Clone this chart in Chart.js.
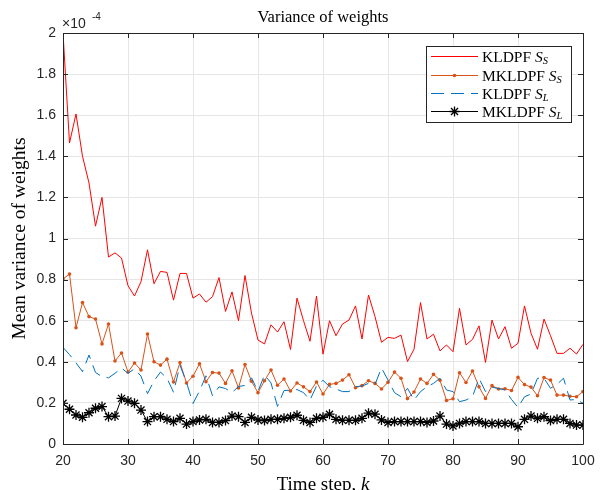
<!DOCTYPE html>
<html><head><meta charset="utf-8">
<script src="https://cdn.jsdelivr.net/npm/chart.js@4/dist/chart.umd.min.js"></script>
<style>html,body{margin:0;padding:0;background:#fff}canvas{display:block}</style>
</head><body>
<canvas id="c" width="606" height="490"></canvas>
<script>
// Time steps k
const steps = [20,21,22,23,24,25,26,27,28,29,30,31,32,33,34,35,36,37,38,39,40,41,42,43,44,45,46,47,48,49,50,51,52,53,54,55,56,57,58,59,60,61,62,63,64,65,66,67,68,69,70,71,72,73,74,75,76,77,78,79,80,81,82,83,84,85,86,87,88,89,90,91,92,93,94,95,96,97,98,99,100];
// Values in units of 1e-4
const kldpfSS = [2.0,1.465,1.606,1.40,1.27,1.06,1.20,0.91,0.93,0.905,0.77,0.72,0.79,0.945,0.78,0.84,0.835,0.70,0.83,0.83,0.71,0.73,0.69,0.717,0.81,0.645,0.74,0.60,0.82,0.637,0.506,0.487,0.58,0.545,0.595,0.46,0.71,0.60,0.50,0.72,0.437,0.60,0.527,0.584,0.603,0.672,0.511,0.725,0.62,0.495,0.519,0.514,0.53,0.401,0.461,0.688,0.511,0.534,0.453,0.482,0.449,0.66,0.482,0.509,0.575,0.397,0.603,0.511,0.571,0.466,0.49,0.672,0.539,0.461,0.608,0.527,0.441,0.441,0.466,0.438,0.485];
const mkldpfSS = [0.803,0.827,0.566,0.688,0.62,0.608,0.487,0.584,0.404,0.443,0.35,0.394,0.36,0.535,0.40,0.384,0.413,0.302,0.396,0.297,0.33,0.39,0.303,0.348,0.345,0.295,0.356,0.273,0.387,0.305,0.25,0.308,0.36,0.286,0.316,0.258,0.297,0.278,0.255,0.302,0.243,0.29,0.295,0.311,0.337,0.274,0.284,0.308,0.295,0.268,0.30,0.35,0.32,0.221,0.253,0.316,0.295,0.339,0.31,0.212,0.22,0.347,0.299,0.355,0.278,0.222,0.284,0.268,0.269,0.26,0.324,0.289,0.277,0.235,0.323,0.311,0.238,0.238,0.232,0.23,0.255];
const kldpfSL = [0.47,0.435,0.395,0.352,0.433,0.348,0.328,0.322,0.344,0.37,0.344,0.366,0.33,0.245,0.307,0.35,0.32,0.252,0.383,0.30,0.197,0.258,0.332,0.235,0.278,0.27,0.25,0.28,0.285,0.322,0.256,0.336,0.297,0.183,0.26,0.262,0.265,0.25,0.214,0.282,0.31,0.279,0.268,0.255,0.255,0.279,0.282,0.295,0.29,0.37,0.311,0.25,0.23,0.271,0.214,0.255,0.279,0.295,0.32,0.263,0.255,0.206,0.214,0.23,0.32,0.255,0.276,0.27,0.263,0.217,0.178,0.23,0.243,0.32,0.32,0.271,0.29,0.32,0.214,0.217,0.198];
const mkldpfSL = [0.198,0.169,0.141,0.13,0.152,0.174,0.182,0.133,0.136,0.222,0.209,0.198,0.165,0.109,0.133,0.133,0.12,0.109,0.125,0.097,0.109,0.117,0.12,0.105,0.105,0.114,0.136,0.133,0.105,0.13,0.117,0.114,0.12,0.12,0.125,0.13,0.14,0.115,0.105,0.125,0.13,0.145,0.12,0.115,0.115,0.115,0.125,0.15,0.145,0.117,0.105,0.109,0.109,0.109,0.109,0.109,0.105,0.112,0.136,0.097,0.088,0.1,0.109,0.109,0.109,0.1,0.1,0.1,0.1,0.1,0.084,0.12,0.136,0.125,0.133,0.114,0.12,0.12,0.1,0.092,0.092];
const xTicks = [20,30,40,50,60,70,80,90,100];
const yTicks = [0,0.2,0.4,0.6,0.8,1,1.2,1.4,1.6,1.8,2];
const seriesNames = ['KLDPF', 'MKLDPF', 'KLDPF', 'MKLDPF'];
const seriesSubs = ['S', 'S', 'L', 'L'];

const AX = '#262626';
const SANS = '"Liberation Sans", Arial, Helvetica, sans-serif';
const SERIF = '"Liberation Serif", "DejaVu Serif", serif';
const colors = ['#ff0000', '#d95319', '#0072bd', '#000000'];

function pts(arr){ return steps.map((k,i)=>({x:k, y:arr[i]})); }

const framePlugin = {
  id: 'frame',
  afterDraw(chart){
    const ctx = chart.ctx, a = chart.chartArea;
    const xs = chart.scales.x, ys = chart.scales.y;
    ctx.save();
    ctx.strokeStyle = AX; ctx.lineWidth = 1;
    ctx.beginPath();
    ctx.rect(Math.round(a.left)+0.5, Math.round(a.top)+0.5, Math.round(a.right-a.left), Math.round(a.bottom-a.top));
    ctx.stroke();
    const TL = 5;
    ctx.beginPath();
    xTicks.forEach(v=>{
      const px = Math.round(xs.getPixelForValue(v))+0.5;
      ctx.moveTo(px, a.bottom); ctx.lineTo(px, a.bottom-TL);
      ctx.moveTo(px, a.top); ctx.lineTo(px, a.top+TL);
    });
    yTicks.forEach(v=>{
      const py = Math.round(ys.getPixelForValue(v))+0.5;
      ctx.moveTo(a.left, py); ctx.lineTo(a.left+TL, py);
      ctx.moveTo(a.right, py); ctx.lineTo(a.right-TL, py);
    });
    ctx.stroke();

    // exponent
    ctx.fillStyle = AX;
    ctx.font = '14px ' + SANS;
    ctx.textAlign = 'left'; ctx.textBaseline = 'alphabetic';
    ctx.fillText('\u00d710', 62, 28);
    ctx.font = '10px ' + SANS;
    ctx.fillText('-4', 92, 20);

    // title
    ctx.fillStyle = '#000';
    ctx.font = '16.5px ' + SERIF;
    ctx.textAlign = 'center';
    ctx.fillText('Variance of weights', (a.left+a.right)/2, 22);

    // x label
    ctx.font = '19px ' + SERIF;
    const lab = 'Time step, ';
    const w1 = ctx.measureText(lab).width;
    ctx.font = 'italic 19px ' + SERIF;
    const w2 = ctx.measureText('k').width;
    let sx = (a.left+a.right)/2 - (w1+w2)/2;
    ctx.textAlign = 'left';
    ctx.font = '19px ' + SERIF;
    ctx.fillText(lab, sx, 490);
    ctx.font = 'italic 19px ' + SERIF;
    ctx.fillText('k', sx+w1, 490);

    // y label
    ctx.save();
    ctx.translate(25, (a.top+a.bottom)/2);
    ctx.rotate(-Math.PI/2);
    ctx.textAlign = 'center';
    ctx.font = '19.5px ' + SERIF;
    ctx.fillText('Mean variance of weights', 0, 0);
    ctx.restore();

    // legend
    const lx = 426.5, ly = 46.5, lw = 145, lh = 76;
    ctx.fillStyle = '#fff';
    ctx.fillRect(lx, ly, lw, lh);
    ctx.strokeStyle = AX; ctx.lineWidth = 1;
    ctx.strokeRect(lx, ly, lw, lh);
    const rowY = [56, 74.5, 93, 111];
    for (let i=0;i<4;i++){
      const y = Math.round(rowY[i])+0.5;
      ctx.save();
      ctx.strokeStyle = colors[i]; ctx.lineWidth = 1;
      if (i===2) ctx.setLineDash([13,7]);
      ctx.beginPath(); ctx.moveTo(431, y); ctx.lineTo(478, y); ctx.stroke();
      ctx.setLineDash([]);
      if (i===1){ ctx.fillStyle = colors[1]; ctx.beginPath(); ctx.arc(454.5, y, 1.8, 0, Math.PI*2); ctx.fill(); }
      if (i===3){
        ctx.strokeStyle = '#000'; ctx.lineWidth = 1.3;
        const r = 5, cx = 454.5;
        ctx.beginPath();
        ctx.moveTo(cx, y-r); ctx.lineTo(cx, y+r);
        ctx.moveTo(cx-r, y); ctx.lineTo(cx+r, y);
        const d = r*0.707;
        ctx.moveTo(cx-d, y-d); ctx.lineTo(cx+d, y+d);
        ctx.moveTo(cx-d, y+d); ctx.lineTo(cx+d, y-d);
        ctx.stroke();
      }
      ctx.restore();
      ctx.fillStyle = '#000';
      ctx.textAlign = 'left'; ctx.textBaseline = 'middle';
      ctx.font = '15.5px ' + SERIF;
      const tx = 482;
      const nm = seriesNames[i] + ' ';
      ctx.fillText(nm, tx, y+1);
      const nw = ctx.measureText(nm).width;
      ctx.font = 'italic 15.5px ' + SERIF;
      ctx.fillText('S', tx+nw, y+1);
      const sw = ctx.measureText('S').width;
      ctx.font = 'italic 10.5px ' + SERIF;
      ctx.fillText(seriesSubs[i], tx+nw+sw, y+5);
    }
    ctx.restore();
  }
};

new Chart(document.getElementById('c'), {
  type: 'line',
  data: {
    datasets: [
      { label: 'KLDPF S_S', data: pts(kldpfSS), borderColor: colors[0], borderWidth: 1, pointRadius: 0, order: 3, tension: 0 },
      { label: 'MKLDPF S_S', data: pts(mkldpfSS), borderColor: colors[1], backgroundColor: colors[1], borderWidth: 1, pointRadius: 1.8, pointBorderWidth: 0, pointStyle: 'circle', order: 2, tension: 0 },
      { label: 'KLDPF S_L', data: pts(kldpfSL), borderColor: colors[2], borderWidth: 1, borderDash: [13,7], pointRadius: 0, order: 1, tension: 0 },
      { label: 'MKLDPF S_L', data: pts(mkldpfSL), borderColor: '#000', backgroundColor: '#000', borderWidth: 1, pointStyle: 'star', pointRadius: 5, pointBorderWidth: 1.3, pointBorderColor: '#000', order: 0, tension: 0 }
    ]
  },
  options: {
    responsive: false,
    animation: false,
    events: [],
    layout: { padding: { left: 0, top: 33, right: 23, bottom: 0 } },
    plugins: { legend: { display: false }, tooltip: { enabled: false }, title: { display: false } },
    scales: {
      x: {
        type: 'linear', min: 20, max: 100,
        afterFit(s){ s.height = 46; },
        afterBuildTicks(s){ s.ticks = xTicks.map(v=>({value:v})); },
        ticks: { font: { family: SANS, size: 14 }, color: AX, padding: 9, maxRotation: 0 },
        grid: { color: '#e6e6e6', lineWidth: 1, drawTicks: false },
        border: { display: false }
      },
      y: {
        type: 'linear', min: 0, max: 2,
        afterFit(s){ s.width = 63; },
        afterBuildTicks(s){ s.ticks = yTicks.map(v=>({value:v})); },
        ticks: { font: { family: SANS, size: 14 }, color: AX, padding: 7, callback: v => String(Math.round(v*10)/10) },
        grid: { color: '#e6e6e6', lineWidth: 1, drawTicks: false },
        border: { display: false }
      }
    }
  },
  plugins: [framePlugin]
});
</script>
</body></html>
